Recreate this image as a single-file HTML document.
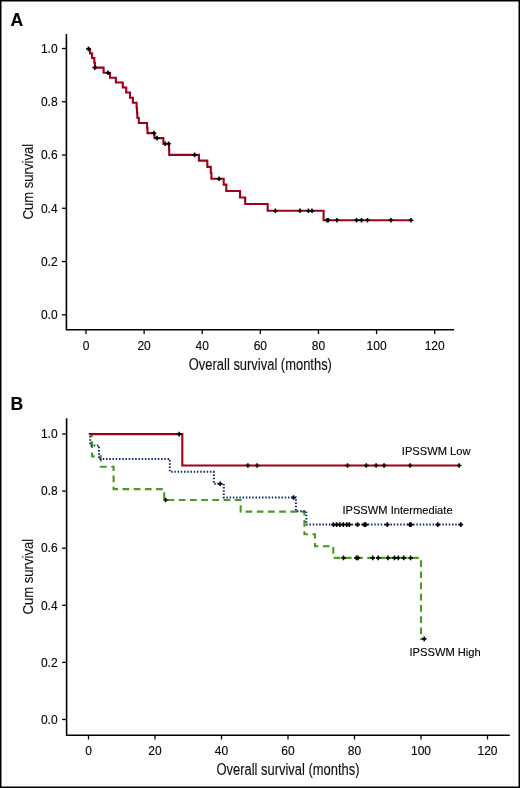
<!DOCTYPE html><html><head><meta charset="utf-8"><style>html,body{margin:0;padding:0;background:#fff;}svg{display:block;will-change:transform;}text{font-family:"Liberation Sans", sans-serif;stroke:#000;stroke-width:0.12px;}</style></head><body>
<svg width="520" height="788" viewBox="0 0 520 788">
<rect x="0" y="0" width="520" height="788" fill="#fff"/>
<rect x="0.75" y="0.75" width="518.5" height="786.5" fill="none" stroke="#000" stroke-width="1.5"/>
<text x="10.6" y="25.6" font-size="17.6" font-weight="bold" fill="#000">A</text>
<path d="M66.4,34 V329.8 H454.1" stroke="#000" stroke-width="1.6" fill="none"/>
<path d="M61.90,314.80 H66.4" stroke="#000" stroke-width="1.3"/>
<text x="57.6" y="319.05" font-size="12" text-anchor="end" fill="#000">0.0</text>
<path d="M61.90,261.54 H66.4" stroke="#000" stroke-width="1.3"/>
<text x="57.6" y="265.79" font-size="12" text-anchor="end" fill="#000">0.2</text>
<path d="M61.90,208.28 H66.4" stroke="#000" stroke-width="1.3"/>
<text x="57.6" y="212.53" font-size="12" text-anchor="end" fill="#000">0.4</text>
<path d="M61.90,155.02 H66.4" stroke="#000" stroke-width="1.3"/>
<text x="57.6" y="159.27" font-size="12" text-anchor="end" fill="#000">0.6</text>
<path d="M61.90,101.76 H66.4" stroke="#000" stroke-width="1.3"/>
<text x="57.6" y="106.01" font-size="12" text-anchor="end" fill="#000">0.8</text>
<path d="M61.90,48.50 H66.4" stroke="#000" stroke-width="1.3"/>
<text x="57.6" y="52.75" font-size="12" text-anchor="end" fill="#000">1.0</text>
<path d="M86.00,329.8 V334.1" stroke="#000" stroke-width="1.3"/>
<text x="86.00" y="349.50" font-size="12" text-anchor="middle" fill="#000">0</text>
<path d="M144.12,329.8 V334.1" stroke="#000" stroke-width="1.3"/>
<text x="144.12" y="349.50" font-size="12" text-anchor="middle" fill="#000">20</text>
<path d="M202.23,329.8 V334.1" stroke="#000" stroke-width="1.3"/>
<text x="202.23" y="349.50" font-size="12" text-anchor="middle" fill="#000">40</text>
<path d="M260.35,329.8 V334.1" stroke="#000" stroke-width="1.3"/>
<text x="260.35" y="349.50" font-size="12" text-anchor="middle" fill="#000">60</text>
<path d="M318.47,329.8 V334.1" stroke="#000" stroke-width="1.3"/>
<text x="318.47" y="349.50" font-size="12" text-anchor="middle" fill="#000">80</text>
<path d="M376.58,329.8 V334.1" stroke="#000" stroke-width="1.3"/>
<text x="376.58" y="349.50" font-size="12" text-anchor="middle" fill="#000">100</text>
<path d="M434.70,329.8 V334.1" stroke="#000" stroke-width="1.3"/>
<text x="434.70" y="349.50" font-size="12" text-anchor="middle" fill="#000">120</text>
<text transform="translate(260.35,369.6) scale(0.83,1)" x="0" y="0" font-size="15.6" text-anchor="middle" fill="#111">Overall survival (months)</text>
<text transform="translate(33.0,181.7) rotate(-90) scale(0.862,1)" x="0" y="0" font-size="15.2" text-anchor="middle" fill="#111">Cum survival</text>
<path d="M88.2,48.9 H90.0 V53.4 H92.0 V58.0 H94.3 V62.8 H95.0 V67.6 H103.6 V72.7 H110.0 V77.7 H115.9 V82.5 H122.8 V87.5 H126.2 V92.5 H130.0 V97.8 H132.9 V102.8 H136.6 V107.8 H137.0 V112.7 H137.3 V117.7 H138.8 V123.0 H147.1 V128.0 H147.5 V133.1 H154.5 V138.1 H163.4 V143.7 H169.0 V149.3 H169.2 V154.9 H198.9 V160.6 H207.3 V166.9 H210.8 V172.8 H211.4 V178.8 H223.7 V184.6 H226.3 V191.0 H240.0 V197.5 H245.2 V204.0 H267.7 V210.8 H323.6 V220.2 H411.0" stroke="#9e0018" stroke-width="2.1" fill="none"/>
<path d="M86.10,48.9 H90.70 M88.4,46.60 V51.20" stroke="#000" stroke-width="1.6" fill="none"/>
<path d="M92.40,67.6 H97.00 M94.7,65.30 V69.90" stroke="#000" stroke-width="1.6" fill="none"/>
<path d="M105.70,72.7 H110.30 M108.0,70.40 V75.00" stroke="#000" stroke-width="1.6" fill="none"/>
<path d="M151.60,133.1 H156.20 M153.9,130.80 V135.40" stroke="#000" stroke-width="1.6" fill="none"/>
<path d="M154.70,138.1 H159.30 M157.0,135.80 V140.40" stroke="#000" stroke-width="1.6" fill="none"/>
<path d="M162.90,143.7 H167.50 M165.2,141.40 V146.00" stroke="#000" stroke-width="1.6" fill="none"/>
<path d="M166.30,143.7 H170.90 M168.6,141.40 V146.00" stroke="#000" stroke-width="1.6" fill="none"/>
<path d="M192.30,154.9 H196.90 M194.6,152.60 V157.20" stroke="#000" stroke-width="1.6" fill="none"/>
<path d="M216.80,178.8 H221.40 M219.1,176.50 V181.10" stroke="#000" stroke-width="1.6" fill="none"/>
<path d="M273.10,210.8 H277.70 M275.4,208.50 V213.10" stroke="#000" stroke-width="1.6" fill="none"/>
<path d="M297.60,210.8 H302.20 M299.9,208.50 V213.10" stroke="#000" stroke-width="1.6" fill="none"/>
<path d="M306.10,210.8 H310.70 M308.4,208.50 V213.10" stroke="#000" stroke-width="1.6" fill="none"/>
<path d="M309.70,210.8 H314.30 M312.0,208.50 V213.10" stroke="#000" stroke-width="1.6" fill="none"/>
<path d="M324.70,220.2 H329.30 M327.0,217.90 V222.50" stroke="#000" stroke-width="1.6" fill="none"/>
<path d="M326.00,220.2 H330.60 M328.3,217.90 V222.50" stroke="#000" stroke-width="1.6" fill="none"/>
<path d="M334.60,220.2 H339.20 M336.9,217.90 V222.50" stroke="#000" stroke-width="1.6" fill="none"/>
<path d="M354.20,220.2 H358.80 M356.5,217.90 V222.50" stroke="#000" stroke-width="1.6" fill="none"/>
<path d="M359.20,220.2 H363.80 M361.5,217.90 V222.50" stroke="#000" stroke-width="1.6" fill="none"/>
<path d="M365.20,220.2 H369.80 M367.5,217.90 V222.50" stroke="#000" stroke-width="1.6" fill="none"/>
<path d="M388.60,220.2 H393.20 M390.9,217.90 V222.50" stroke="#000" stroke-width="1.6" fill="none"/>
<path d="M408.70,220.2 H413.30 M411.0,217.90 V222.50" stroke="#000" stroke-width="1.6" fill="none"/>
<text x="10.6" y="409.8" font-size="17.6" font-weight="bold" fill="#000">B</text>
<path d="M66.6,418.3 V735.2 H509.8" stroke="#000" stroke-width="1.6" fill="none"/>
<path d="M62.10,719.50 H66.6" stroke="#000" stroke-width="1.3"/>
<text x="57.6" y="723.75" font-size="12" text-anchor="end" fill="#000">0.0</text>
<path d="M62.10,662.40 H66.6" stroke="#000" stroke-width="1.3"/>
<text x="57.6" y="666.65" font-size="12" text-anchor="end" fill="#000">0.2</text>
<path d="M62.10,605.30 H66.6" stroke="#000" stroke-width="1.3"/>
<text x="57.6" y="609.55" font-size="12" text-anchor="end" fill="#000">0.4</text>
<path d="M62.10,548.20 H66.6" stroke="#000" stroke-width="1.3"/>
<text x="57.6" y="552.45" font-size="12" text-anchor="end" fill="#000">0.6</text>
<path d="M62.10,491.10 H66.6" stroke="#000" stroke-width="1.3"/>
<text x="57.6" y="495.35" font-size="12" text-anchor="end" fill="#000">0.8</text>
<path d="M62.10,434.00 H66.6" stroke="#000" stroke-width="1.3"/>
<text x="57.6" y="438.25" font-size="12" text-anchor="end" fill="#000">1.0</text>
<path d="M88.50,735.2 V739.5" stroke="#000" stroke-width="1.3"/>
<text x="88.50" y="754.90" font-size="12" text-anchor="middle" fill="#000">0</text>
<path d="M155.00,735.2 V739.5" stroke="#000" stroke-width="1.3"/>
<text x="155.00" y="754.90" font-size="12" text-anchor="middle" fill="#000">20</text>
<path d="M221.50,735.2 V739.5" stroke="#000" stroke-width="1.3"/>
<text x="221.50" y="754.90" font-size="12" text-anchor="middle" fill="#000">40</text>
<path d="M288.00,735.2 V739.5" stroke="#000" stroke-width="1.3"/>
<text x="288.00" y="754.90" font-size="12" text-anchor="middle" fill="#000">60</text>
<path d="M354.50,735.2 V739.5" stroke="#000" stroke-width="1.3"/>
<text x="354.50" y="754.90" font-size="12" text-anchor="middle" fill="#000">80</text>
<path d="M421.00,735.2 V739.5" stroke="#000" stroke-width="1.3"/>
<text x="421.00" y="754.90" font-size="12" text-anchor="middle" fill="#000">100</text>
<path d="M487.50,735.2 V739.5" stroke="#000" stroke-width="1.3"/>
<text x="487.50" y="754.90" font-size="12" text-anchor="middle" fill="#000">120</text>
<text transform="translate(288.00,775.2) scale(0.83,1)" x="0" y="0" font-size="15.6" text-anchor="middle" fill="#111">Overall survival (months)</text>
<text transform="translate(33.0,576.7) rotate(-90) scale(0.862,1)" x="0" y="0" font-size="15.2" text-anchor="middle" fill="#111">Cum survival</text>
<path d="M88.9,434.1 H92.0 V456.4 H100.8 V466.7 H113.6 V489.1 H164.2 V500.0 H240.7 V511.6 H304.4 V534.3 H315.0 V546.3 H333.3 V557.9 H421.0 V638.9 H424.2" stroke="#4c9a20" stroke-width="2.1" fill="none" stroke-dasharray="6.7 4.5" stroke-dashoffset="1"/>
<path d="M88.9,434.1 H90.3 V445.5 H99.0 V459.1 H169.8 V471.8 H213.8 V483.7 H223.8 V497.5 H295.9 V511.2 H306.3 V524.6 H461.0" stroke="#0c2a6e" stroke-width="2.0" fill="none" stroke-dasharray="1.5 1.74"/>
<path d="M88.9,434.1 H182.3 V465.5 H459.2" stroke="#9e0018" stroke-width="2.1" fill="none"/>
<path d="M176.90,434.1 H181.50 M179.2,431.80 V436.40" stroke="#000" stroke-width="1.6" fill="none"/>
<path d="M245.60,465.5 H250.20 M247.9,463.20 V467.80" stroke="#000" stroke-width="1.6" fill="none"/>
<path d="M254.90,465.5 H259.50 M257.2,463.20 V467.80" stroke="#000" stroke-width="1.6" fill="none"/>
<path d="M345.20,465.5 H349.80 M347.5,463.20 V467.80" stroke="#000" stroke-width="1.6" fill="none"/>
<path d="M364.00,465.5 H368.60 M366.3,463.20 V467.80" stroke="#000" stroke-width="1.6" fill="none"/>
<path d="M373.80,465.5 H378.40 M376.1,463.20 V467.80" stroke="#000" stroke-width="1.6" fill="none"/>
<path d="M381.80,465.5 H386.40 M384.1,463.20 V467.80" stroke="#000" stroke-width="1.6" fill="none"/>
<path d="M407.80,465.5 H412.40 M410.1,463.20 V467.80" stroke="#000" stroke-width="1.6" fill="none"/>
<path d="M456.90,465.5 H461.50 M459.2,463.20 V467.80" stroke="#000" stroke-width="1.6" fill="none"/>
<path d="M217.90,483.7 H222.50 M220.2,481.40 V486.00" stroke="#000" stroke-width="1.6" fill="none"/>
<path d="M291.20,497.5 H295.80 M293.5,495.20 V499.80" stroke="#000" stroke-width="1.6" fill="none"/>
<path d="M331.20,524.6 H335.80 M333.5,522.30 V526.90" stroke="#000" stroke-width="1.6" fill="none"/>
<path d="M334.40,524.6 H339.00 M336.7,522.30 V526.90" stroke="#000" stroke-width="1.6" fill="none"/>
<path d="M337.50,524.6 H342.10 M339.8,522.30 V526.90" stroke="#000" stroke-width="1.6" fill="none"/>
<path d="M341.00,524.6 H345.60 M343.3,522.30 V526.90" stroke="#000" stroke-width="1.6" fill="none"/>
<path d="M344.50,524.6 H349.10 M346.8,522.30 V526.90" stroke="#000" stroke-width="1.6" fill="none"/>
<path d="M347.10,524.6 H351.70 M349.4,522.30 V526.90" stroke="#000" stroke-width="1.6" fill="none"/>
<path d="M355.20,524.6 H359.80 M357.5,522.30 V526.90" stroke="#000" stroke-width="1.6" fill="none"/>
<path d="M362.00,524.6 H366.60 M364.3,522.30 V526.90" stroke="#000" stroke-width="1.6" fill="none"/>
<path d="M363.40,524.6 H368.00 M365.7,522.30 V526.90" stroke="#000" stroke-width="1.6" fill="none"/>
<path d="M385.00,524.6 H389.60 M387.3,522.30 V526.90" stroke="#000" stroke-width="1.6" fill="none"/>
<path d="M407.50,524.6 H412.10 M409.8,522.30 V526.90" stroke="#000" stroke-width="1.6" fill="none"/>
<path d="M408.70,524.6 H413.30 M411.0,522.30 V526.90" stroke="#000" stroke-width="1.6" fill="none"/>
<path d="M435.50,524.6 H440.10 M437.8,522.30 V526.90" stroke="#000" stroke-width="1.6" fill="none"/>
<path d="M458.50,524.6 H463.10 M460.8,522.30 V526.90" stroke="#000" stroke-width="1.6" fill="none"/>
<path d="M163.30,500.0 H167.90 M165.6,497.70 V502.30" stroke="#000" stroke-width="1.6" fill="none"/>
<path d="M341.20,557.9 H345.80 M343.5,555.60 V560.20" stroke="#000" stroke-width="1.6" fill="none"/>
<path d="M354.10,557.9 H358.70 M356.4,555.60 V560.20" stroke="#000" stroke-width="1.6" fill="none"/>
<path d="M355.60,557.9 H360.20 M357.9,555.60 V560.20" stroke="#000" stroke-width="1.6" fill="none"/>
<path d="M370.50,557.9 H375.10 M372.8,555.60 V560.20" stroke="#000" stroke-width="1.6" fill="none"/>
<path d="M375.90,557.9 H380.50 M378.2,555.60 V560.20" stroke="#000" stroke-width="1.6" fill="none"/>
<path d="M385.60,557.9 H390.20 M387.9,555.60 V560.20" stroke="#000" stroke-width="1.6" fill="none"/>
<path d="M392.20,557.9 H396.80 M394.5,555.60 V560.20" stroke="#000" stroke-width="1.6" fill="none"/>
<path d="M396.00,557.9 H400.60 M398.3,555.60 V560.20" stroke="#000" stroke-width="1.6" fill="none"/>
<path d="M401.40,557.9 H406.00 M403.7,555.60 V560.20" stroke="#000" stroke-width="1.6" fill="none"/>
<path d="M408.30,557.9 H412.90 M410.6,555.60 V560.20" stroke="#000" stroke-width="1.6" fill="none"/>
<path d="M421.90,638.9 H426.50 M424.2,636.60 V641.20" stroke="#000" stroke-width="1.6" fill="none"/>
<text x="401.8" y="454.6" font-size="11.15" fill="#000">IPSSWM Low</text>
<text x="342.4" y="513.7" font-size="11.15" fill="#000">IPSSWM Intermediate</text>
<text x="409.5" y="656.0" font-size="11.15" fill="#000">IPSSWM High</text>
</svg></body></html>
